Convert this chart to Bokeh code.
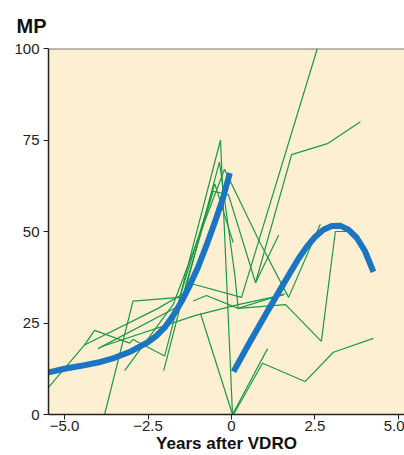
from bokeh.plotting import figure
from bokeh.models import Range1d, FixedTicker, Span
from bokeh.embed import file_html
from bokeh.resources import INLINE

# individual patient trajectories (years after VDRO, MP)
traj_x = [
    [-5.48, -4.4, -2.2, -1.45, -0.95],
    [-4.4, -4.1, -3.05, -2.95, -2.0, -1.55, -0.5, 0.05],
    [-3.8, -2.95, -1.55, -0.33, 0.03],
    [-4.0, -1.5, -0.36, 0.1, 0.2, 1.6],
    [-3.2, -1.75, -0.21, 0.85, 1.71, 2.66],
    [-2.03, -1.35, -0.55, -0.09, 0.72, 1.41],
    [-3.9, -1.1, 0.2, 1.56],
    [-1.15, -0.75, 0.2, 1.62, 2.69, 3.11, 3.47],
    [0.72, 1.8, 2.87, 3.86],
    [-1.3, 0.3, 2.57],
    [0.06, 0.93, 2.2, 3.05, 4.25],
    [-0.93, 0.03, 1.08],
]
traj_y = [
    [7.4, 19, 29, 33, 40],
    [19, 23, 19.5, 20.5, 16, 32, 63, 47],
    [0, 31, 32, 75, 0],
    [18, 30, 69, 38, 29, 33],
    [12, 30, 67, 47, 32, 52],
    [12, 36, 61, 60, 36, 49],
    [18.5, 27, 30, 32.7],
    [31, 32.5, 29, 30, 20, 50, 50],
    [36, 71, 74, 80],
    [36, 32, 100],
    [0, 14, 9, 17, 20.8],
    [27.6, 0, 18],
]

# fitted curves before and after VDRO
pre_x = [-5.48, -5.0, -4.5, -4.0, -3.5, -3.0, -2.5, -2.25, -2.0, -1.75, -1.5,
         -1.25, -1.0, -0.75, -0.5, -0.25, -0.05]
pre_y = [11.5, 12.5, 13.3, 14.2, 15.5, 17.3, 19.8, 21.5, 23.8, 27.0, 30.8,
         35.3, 40.3, 46.2, 52.5, 59.3, 66.0]
post_x = [0.06, 0.5, 1.0, 1.5, 2.0, 2.25, 2.5, 2.75, 3.0, 3.25, 3.5, 3.75, 4.0, 4.25]
post_y = [11.7, 19.0, 27.0, 34.8, 42.5, 45.8, 48.5, 50.5, 51.5, 51.6, 50.5, 48.3, 44.6, 39.0]

x_ticks = [-5.0, -2.5, 0, 2.5, 5.0]
x_tick_labels = ["\u22125.0", "\u22122.5", "0", "2.5", "5.0"]
y_ticks = [0, 25, 50, 75, 100]

p = figure(width=404, height=455, output_backend="svg", toolbar_location=None,
           x_range=Range1d(-5.48, 5.18), y_range=Range1d(0, 100),
           min_border_left=48, min_border_right=0, min_border_top=48,
           min_border_bottom=41)
p.background_fill_color = "#FDEFD2"
p.border_fill_color = "white"
p.outline_line_color = None
p.grid.visible = False

p.title.text = "MP"
p.title.text_font = "Liberation Sans"
p.title.text_font_size = "20px"
p.title.text_font_style = "bold"
p.title.text_color = "#111111"
p.title.align = "left"
p.title.offset = -32
p.title.standoff = 24

for ax in (p.xaxis[0], p.yaxis[0]):
    ax.axis_line_color = "#222222"
    ax.axis_line_width = 1.5
    ax.major_tick_line_color = "#222222"
    ax.major_tick_out = 5
    ax.major_tick_in = 0
    ax.minor_tick_line_color = None
    ax.major_label_text_font = "Liberation Sans"
    ax.major_label_text_font_size = "15px"
    ax.major_label_text_color = "#222222"

p.xaxis.ticker = FixedTicker(ticks=x_ticks)
p.xaxis.major_label_overrides = {t: l for t, l in zip(x_ticks, x_tick_labels)}
p.yaxis.ticker = FixedTicker(ticks=y_ticks)
p.yaxis.major_label_standoff = 4
p.xaxis.major_label_standoff = 1
p.xaxis.axis_label = "Years after VDRO"
p.xaxis.axis_label_text_font = "Liberation Sans"
p.xaxis.axis_label_text_font_size = "17px"
p.xaxis.axis_label_text_font_style = "bold"
p.xaxis.axis_label_text_color = "#111111"
p.xaxis.axis_label_standoff = 0

p.add_layout(Span(location=100, dimension="width", line_color="#7a7a7a", line_width=2))

for xs, ys in zip(traj_x, traj_y):
    p.line(xs, ys, line_color="#1A9A45", line_width=1.2)

p.line(pre_x, pre_y, line_color="#1B75C2", line_width=6)
p.line(post_x, post_y, line_color="#1B75C2", line_width=6)

open("out.html", "w").write(file_html(p, INLINE))
